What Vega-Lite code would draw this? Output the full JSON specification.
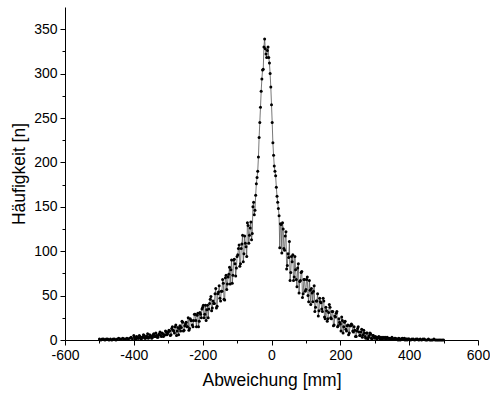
{
  "$schema": "https://vega.github.io/schema/vega-lite/v6.json",
  "width": 413,
  "height": 333,
  "autosize": {"type": "none"},
  "padding": {"left": 65, "top": 7, "right": 12, "bottom": 55},
  "background": "white",
  "config": {"view": {"stroke": null}, "font": "Liberation Sans"},
  "data": {"values": [
    {"x":-500,"y":1},{"x":-496,"y":0},{"x":-492,"y":1},{"x":-488,"y":1},{"x":-484,"y":0},{"x":-480,"y":1},{"x":-476,"y":1},{"x":-472,"y":0},{"x":-468,"y":1},{"x":-464,"y":0},{"x":-460,"y":1},{"x":-456,"y":1},{"x":-452,"y":0},{"x":-448,"y":1},{"x":-444,"y":2},{"x":-440,"y":1},{"x":-436,"y":1},{"x":-432,"y":2},{"x":-428,"y":1},{"x":-424,"y":1},{"x":-420,"y":2},{"x":-416,"y":1},{"x":-412,"y":2},{"x":-408,"y":3},{"x":-404,"y":1},{"x":-400,"y":5},
    {"x":-396,"y":1},{"x":-392,"y":4},{"x":-388,"y":2},{"x":-384,"y":5},{"x":-380,"y":2},{"x":-376,"y":3},{"x":-372,"y":6},{"x":-368,"y":2},{"x":-364,"y":4},{"x":-360,"y":7},{"x":-356,"y":3},{"x":-352,"y":5},{"x":-348,"y":2},{"x":-344,"y":6},{"x":-340,"y":4},{"x":-336,"y":8},{"x":-332,"y":3},{"x":-328,"y":6},{"x":-324,"y":9},{"x":-320,"y":4},{"x":-316,"y":7},{"x":-312,"y":5},{"x":-308,"y":10},{"x":-304,"y":6},{"x":-300,"y":9},
    {"x":-296,"y":10},{"x":-292,"y":6},{"x":-288,"y":15},{"x":-284,"y":10},{"x":-280,"y":15},{"x":-276,"y":5},{"x":-272,"y":14},{"x":-268,"y":13},{"x":-264,"y":10},{"x":-260,"y":21},{"x":-256,"y":10},{"x":-252,"y":16},{"x":-248,"y":20},{"x":-244,"y":15},{"x":-240,"y":11},{"x":-236,"y":24},{"x":-232,"y":22},{"x":-228,"y":15},{"x":-224,"y":29},{"x":-220,"y":22},{"x":-216,"y":28},{"x":-212,"y":15},{"x":-208,"y":31},{"x":-204,"y":25},{"x":-200,"y":37},
    {"x":-196,"y":25},{"x":-192,"y":39},{"x":-188,"y":34},{"x":-184,"y":25},{"x":-180,"y":41},{"x":-176,"y":49},{"x":-172,"y":36},{"x":-168,"y":41},{"x":-164,"y":52},{"x":-160,"y":36},{"x":-156,"y":52},{"x":-152,"y":61},{"x":-148,"y":44},{"x":-144,"y":55},{"x":-140,"y":64},{"x":-136,"y":45},{"x":-132,"y":73},{"x":-128,"y":63},{"x":-124,"y":74},{"x":-120,"y":63},{"x":-116,"y":90},{"x":-112,"y":73},{"x":-108,"y":91},{"x":-104,"y":72},{"x":-100,"y":94},
    {"x":-96,"y":103},{"x":-92,"y":83},{"x":-88,"y":103},{"x":-84,"y":118},{"x":-80,"y":97},{"x":-76,"y":109},{"x":-72,"y":94},{"x":-68,"y":129},{"x":-64,"y":118},{"x":-60,"y":133},{"x":-56,"y":120},{"x":-52,"y":155},{"x":-48,"y":146},{"x":-44,"y":176},{"x":-40,"y":190},{"x":-36,"y":228},{"x":-32,"y":262},{"x":-28,"y":294},{"x":-24,"y":305},{"x":-20,"y":339},{"x":-16,"y":322},{"x":-12,"y":326},{"x":-8,"y":318},{"x":-4,"y":300},
    {"x":0,"y":265},{"x":4,"y":222},{"x":8,"y":196},{"x":12,"y":185},{"x":16,"y":162},{"x":20,"y":148},{"x":24,"y":104},{"x":28,"y":130},{"x":32,"y":132},{"x":36,"y":103},{"x":40,"y":117},{"x":44,"y":80},{"x":48,"y":97},{"x":52,"y":111},{"x":56,"y":76},{"x":60,"y":88},{"x":64,"y":67},
    {"x":68,"y":94},{"x":72,"y":68},{"x":76,"y":81},{"x":80,"y":53},{"x":84,"y":67},{"x":88,"y":77},{"x":92,"y":52},{"x":96,"y":68},{"x":100,"y":57},{"x":104,"y":71},{"x":108,"y":43},{"x":112,"y":56},{"x":116,"y":58},{"x":120,"y":43},{"x":124,"y":61},{"x":128,"y":37},{"x":132,"y":44},{"x":136,"y":27},{"x":140,"y":47},{"x":144,"y":42},{"x":148,"y":32},{"x":152,"y":44},{"x":156,"y":24},{"x":160,"y":33},{"x":164,"y":24},{"x":168,"y":40},{"x":172,"y":25},{"x":176,"y":32},{"x":180,"y":16},{"x":184,"y":27},{"x":188,"y":30},{"x":192,"y":15},{"x":196,"y":24},{"x":200,"y":18},
    {"x":204,"y":26},{"x":208,"y":8},{"x":212,"y":20},{"x":216,"y":12},{"x":220,"y":16},{"x":224,"y":6},{"x":228,"y":16},{"x":232,"y":18},{"x":236,"y":10},{"x":240,"y":15},{"x":244,"y":4},{"x":248,"y":10},{"x":252,"y":15},{"x":256,"y":5},{"x":260,"y":9},{"x":264,"y":3},{"x":268,"y":11},{"x":272,"y":4},{"x":276,"y":8},{"x":280,"y":1},{"x":284,"y":5},{"x":288,"y":7},{"x":292,"y":1},{"x":296,"y":5},{"x":300,"y":2},
    {"x":304,"y":3},{"x":308,"y":2},{"x":312,"y":4},{"x":316,"y":1},{"x":320,"y":2},{"x":324,"y":3},{"x":328,"y":2},{"x":332,"y":1},{"x":336,"y":3},{"x":340,"y":2},{"x":344,"y":1},{"x":348,"y":2},{"x":352,"y":1},{"x":356,"y":1},{"x":360,"y":2},{"x":364,"y":1},{"x":368,"y":0},{"x":372,"y":1},{"x":376,"y":1},{"x":380,"y":2},{"x":384,"y":1},{"x":388,"y":0},{"x":392,"y":1},{"x":396,"y":1},{"x":400,"y":1},
    {"x":404,"y":0},{"x":408,"y":1},{"x":412,"y":1},{"x":416,"y":0},{"x":420,"y":1},{"x":424,"y":1},{"x":428,"y":0},{"x":432,"y":1},{"x":436,"y":0},{"x":440,"y":1},{"x":444,"y":1},{"x":448,"y":0},{"x":452,"y":0},{"x":456,"y":1},{"x":460,"y":0},{"x":464,"y":0},{"x":468,"y":0},{"x":472,"y":1},{"x":476,"y":0},{"x":480,"y":0},{"x":484,"y":0},{"x":488,"y":0},{"x":492,"y":0},{"x":496,"y":0},{"x":500,"y":0},
    {"x":-398,"y":3},{"x":-394,"y":1},{"x":-390,"y":3},{"x":-386,"y":2},{"x":-382,"y":4},{"x":-378,"y":1},{"x":-374,"y":3},{"x":-370,"y":5},{"x":-366,"y":2},{"x":-362,"y":4},{"x":-358,"y":2},{"x":-354,"y":6},{"x":-350,"y":4},{"x":-346,"y":3},{"x":-342,"y":7},{"x":-338,"y":4},{"x":-334,"y":5},{"x":-330,"y":3},{"x":-326,"y":7},{"x":-322,"y":5},{"x":-318,"y":8},{"x":-314,"y":4},{"x":-310,"y":6},{"x":-306,"y":9},{"x":-302,"y":7},
    {"x":-298,"y":11},{"x":-294,"y":5},{"x":-290,"y":13},{"x":-286,"y":11},{"x":-282,"y":8},{"x":-278,"y":17},{"x":-274,"y":10},{"x":-270,"y":6},{"x":-266,"y":16},{"x":-262,"y":14},{"x":-258,"y":20},{"x":-254,"y":11},{"x":-250,"y":18},{"x":-246,"y":15},{"x":-242,"y":25},{"x":-238,"y":13},{"x":-234,"y":22},{"x":-230,"y":17},{"x":-226,"y":22},{"x":-222,"y":29},{"x":-218,"y":15},{"x":-214,"y":30},{"x":-210,"y":21},{"x":-206,"y":29},{"x":-202,"y":35},
    {"x":-198,"y":39},{"x":-194,"y":29},{"x":-190,"y":22},{"x":-186,"y":39},{"x":-182,"y":35},{"x":-178,"y":46},{"x":-174,"y":33},{"x":-170,"y":44},{"x":-166,"y":41},{"x":-162,"y":58},{"x":-158,"y":38},{"x":-154,"y":54},{"x":-150,"y":47},{"x":-146,"y":55},{"x":-142,"y":68},{"x":-138,"y":46},{"x":-134,"y":70},{"x":-130,"y":57},{"x":-126,"y":71},{"x":-122,"y":82},{"x":-118,"y":79},{"x":-114,"y":64},{"x":-110,"y":90},{"x":-106,"y":86},{"x":-102,"y":81},
    {"x":-98,"y":96},{"x":-94,"y":107},{"x":-90,"y":86},{"x":-86,"y":108},{"x":-82,"y":88},{"x":-78,"y":117},{"x":-74,"y":105},{"x":-70,"y":132},{"x":-66,"y":109},{"x":-62,"y":126},{"x":-58,"y":113},{"x":-54,"y":150},{"x":-50,"y":141},{"x":-46,"y":163},{"x":-42,"y":183},{"x":-38,"y":206},{"x":-34,"y":245},{"x":-30,"y":280},{"x":-26,"y":304},{"x":-22,"y":330},
    {"x":-18,"y":328},{"x":-14,"y":318},{"x":-10,"y":330},{"x":-6,"y":312},{"x":-2,"y":285},{"x":2,"y":245},{"x":6,"y":208},{"x":10,"y":190},{"x":14,"y":172},{"x":18,"y":155},{"x":22,"y":140},
    {"x":26,"y":131},{"x":30,"y":98},{"x":34,"y":125},{"x":38,"y":101},{"x":42,"y":122},{"x":46,"y":84},{"x":50,"y":93},{"x":54,"y":67},{"x":58,"y":94},{"x":62,"y":96},{"x":66,"y":71},{"x":70,"y":79},{"x":74,"y":60},{"x":78,"y":86},{"x":82,"y":66},{"x":86,"y":76},{"x":90,"y":48},{"x":94,"y":68},{"x":98,"y":55},
    {"x":102,"y":68},{"x":106,"y":50},{"x":110,"y":67},{"x":114,"y":40},{"x":118,"y":53},{"x":122,"y":55},{"x":126,"y":32},{"x":130,"y":44},{"x":134,"y":52},{"x":138,"y":33},{"x":142,"y":43},{"x":146,"y":35},{"x":150,"y":47},{"x":154,"y":26},{"x":158,"y":37},{"x":162,"y":21},{"x":166,"y":31},{"x":170,"y":37},{"x":174,"y":24},{"x":178,"y":32},{"x":182,"y":17},{"x":186,"y":26},{"x":190,"y":32},{"x":194,"y":16},{"x":198,"y":20},{"x":202,"y":10},{"x":206,"y":22},{"x":210,"y":15},{"x":214,"y":21},{"x":218,"y":10},{"x":222,"y":17},
    {"x":226,"y":8},{"x":230,"y":16},{"x":234,"y":17},{"x":238,"y":9},{"x":242,"y":11},{"x":246,"y":4},{"x":250,"y":13},{"x":254,"y":9},{"x":258,"y":5},{"x":262,"y":12},{"x":266,"y":6},{"x":270,"y":8},{"x":274,"y":2},{"x":278,"y":8},{"x":282,"y":3},{"x":286,"y":8},{"x":290,"y":2},{"x":294,"y":5},{"x":298,"y":3},
    {"x":302,"y":4},{"x":306,"y":1},{"x":310,"y":3},{"x":314,"y":2},{"x":318,"y":3},{"x":322,"y":1},{"x":326,"y":2},{"x":330,"y":3},{"x":334,"y":1},{"x":338,"y":2},{"x":342,"y":2},{"x":346,"y":1},{"x":350,"y":3},{"x":354,"y":1},{"x":358,"y":2},{"x":362,"y":1},{"x":366,"y":1},{"x":370,"y":2},{"x":374,"y":0},{"x":378,"y":1},{"x":382,"y":1},{"x":386,"y":2},{"x":390,"y":1},{"x":394,"y":0},{"x":398,"y":1}
  ]},
  "encoding": {
    "x": {"field": "x", "type": "quantitative",
      "scale": {"domain": [-600, 600], "nice": false, "zero": false},
      "axis": {
        "title": "Abweichung [mm]",
        "values": [-600,-500,-400,-300,-200,-100,0,100,200,300,400,500,600],
        "labelExpr": "datum.value % 200 === 0 ? '' + datum.value : ''",
        "tickSize": {"condition": {"test": "datum.value % 200 !== 0", "value": 3}, "value": 5},
        "grid": false, "domainColor": "black", "tickColor": "black", "labelColor": "black", "titleColor": "black",
        "labelFont": "Liberation Sans", "titleFont": "Liberation Sans",
        "labelFontSize": 14, "titleFontSize": 17.5, "titleFontWeight": "normal",
        "labelPadding": 3, "titlePadding": 9, "labelFlush": false, "labelOverlap": false
      }},
    "y": {"field": "y", "type": "quantitative",
      "scale": {"domain": [0, 375], "nice": false},
      "axis": {
        "title": "Häufigkeit [n]",
        "values": [0,25,50,75,100,125,150,175,200,225,250,275,300,325,350],
        "labelExpr": "datum.value % 50 === 0 ? '' + datum.value : ''",
        "tickSize": {"condition": {"test": "datum.value % 50 !== 0", "value": 3}, "value": 5},
        "grid": false, "domainColor": "black", "tickColor": "black", "labelColor": "black", "titleColor": "black",
        "labelFont": "Liberation Sans", "titleFont": "Liberation Sans",
        "labelFontSize": 14, "titleFontSize": 17.5, "titleFontWeight": "normal",
        "labelPadding": 3, "titlePadding": 5, "labelFlush": false, "labelOverlap": false
      }}
  },
  "layer": [
    {"mark": {"type": "line", "color": "#555555", "strokeWidth": 0.8}},
    {"mark": {"type": "point", "filled": true, "color": "black", "size": 9, "opacity": 1}}
  ]
}
